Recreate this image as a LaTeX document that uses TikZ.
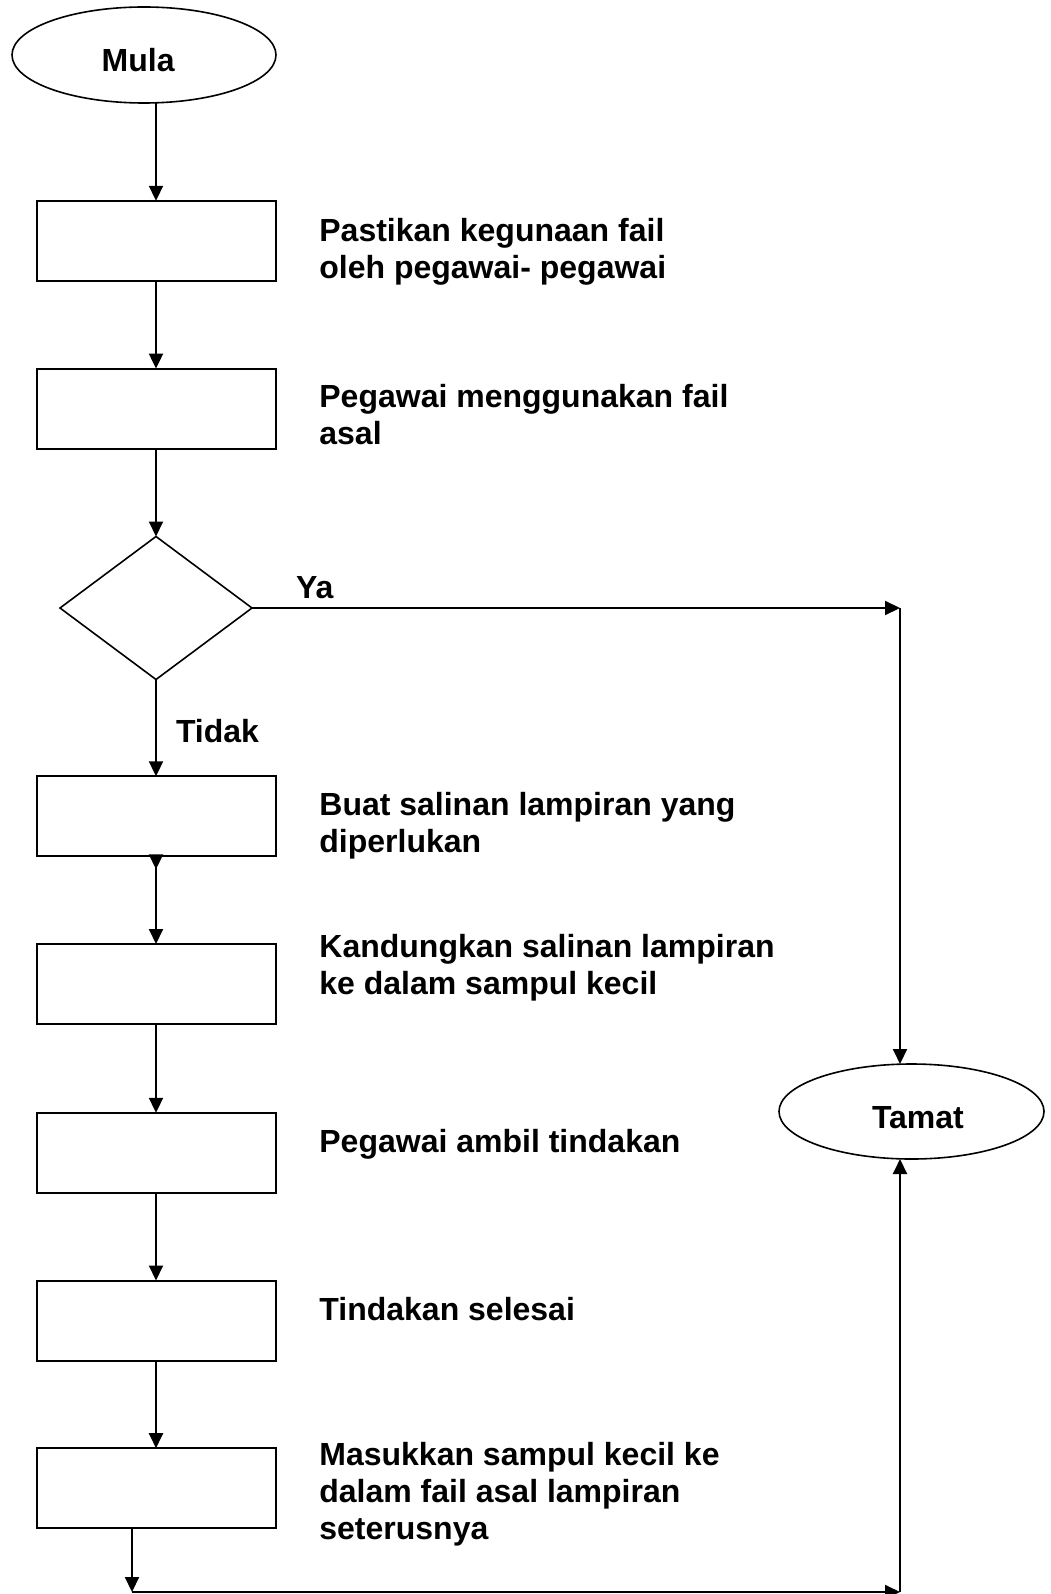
\documentclass[tikz,border=0pt]{standalone}
\usepackage{fontspec}
\setmainfont{Liberation Sans}
\usetikzlibrary{shapes.geometric,arrows.meta}
\begin{document}
\begin{tikzpicture}[x=1pt,y=-1pt,
  every node/.style={inner sep=0pt, outer sep=0pt},
  lbl/.style={font=\fontsize{32}{37}\selectfont\bfseries, align=left, anchor=base west},
  procbox/.style={draw, line width=2pt, minimum width=239pt, minimum height=80pt},
  term/.style={draw, ellipse, line width=1.6pt},
  decision/.style={draw, diamond, line width=1.6pt, minimum width=192pt, minimum height=143pt},
  arr/.style={line width=2pt, -{Triangle[length=15pt,width=14pt]}},
  conn/.style={line width=2pt}]
\useasboundingbox (0,0) rectangle (1050,1594);
% terminals
\node[term, minimum width=264pt, minimum height=96pt] (mula) at (144,55) {};
\node[lbl] (mulatxt) at (101.7,72) {Mula};
\node[term, minimum width=265pt, minimum height=95pt] (tamat) at (911.5,1111.5) {};
\node[lbl] (tamattxt) at (872,1128.3) {Tamat};
% process boxes
\node[procbox] (b1) at (156,240.8) {};
\node[procbox] (b2) at (156,408.6) {};
\node[decision] (dia) at (156,608) {};
\node[procbox] (b3) at (156,816.3) {};
\node[procbox] (b4) at (156,984) {};
\node[procbox] (b5) at (156,1152.8) {};
\node[procbox] (b6) at (156,1320.5) {};
\node[procbox] (b7) at (156,1488.2) {};
% labels (base anchor = baseline of the last line)
\node[lbl] (t1) at (319.4,278.7) {Pastikan kegunaan fail\\oleh pegawai- pegawai};
\node[lbl] (t2) at (319.4,444.7) {Pegawai menggunakan fail\\asal};
\node[lbl] (t3) at (319.4,852.7) {Buat salinan lampiran yang\\diperlukan};
\node[lbl] (t4) at (319.4,994) {Kandungkan salinan lampiran\\ke dalam sampul kecil};
\node[lbl] (t5) at (319.4,1152.5) {Pegawai ambil tindakan};
\node[lbl] (t6) at (319.4,1320) {Tindakan selesai};
\node[lbl] (t7) at (319.4,1539.7) {Masukkan sampul kecil ke\\dalam fail asal lampiran\\seterusnya};
\node[lbl] (ya) at (296,598.3) {Ya};
\node[lbl] (tidak) at (176,742.7) {Tidak};
% corner coordinates
\coordinate (c1) at (900,608);
\coordinate (c2) at (132,1592);
\coordinate (c3) at (900,1592);
% connectors
\draw[arr] (b1.north |- mula.south) -- (b1.north);
\draw[arr] (b1) -- (b2);
\draw[arr] (b2) -- (dia.north);
\draw[arr] (dia.south) -- (b3.north);
\draw[arr] (b3.south) ++(0,-1) -- ++(0,14);
\draw[arr] (b3) -- (b4);
\draw[arr] (b4) -- (b5);
\draw[arr] (b5) -- (b6);
\draw[arr] (b6) -- (b7);
\draw[arr] (dia.east) -- (c1);
\draw[arr] (c1) -- (c1 |- tamat.north);
\draw[arr] (b7.south -| c2) -- (c2);
\draw[arr] (c2) -- (c3);
\draw[arr] (c3) -- (c3 |- tamat.south);
\end{tikzpicture}
\end{document}
